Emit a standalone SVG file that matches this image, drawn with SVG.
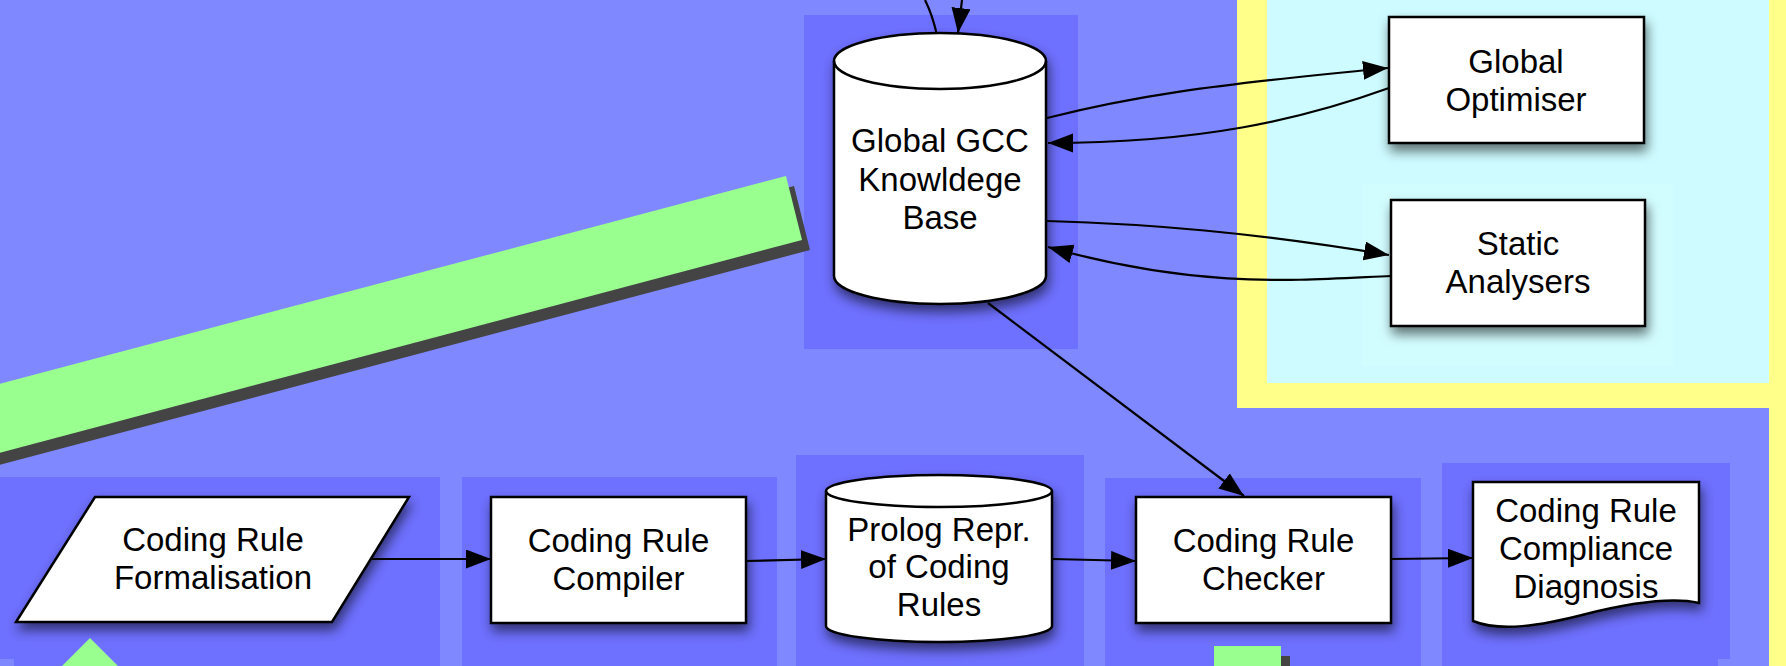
<svg xmlns="http://www.w3.org/2000/svg" width="1786" height="666" viewBox="0 0 1786 666">
  <defs>
    <style>
      .panel { fill: #6E70FF; }
      .bg { fill: #8088FF; }
      .node { fill: #FFFFFF; stroke: #000000; stroke-width: 2.5; filter: url(#shadow); }
      .rim { fill: none; stroke: #000000; stroke-width: 2.5; }
      .label { font-family: "Liberation Sans", Arial, Helvetica, sans-serif; font-size: 33px; fill: #000000; text-anchor: middle; }
      .edge { fill: none; stroke: #000000; stroke-width: 2.2; }
      .arrow { marker-end: url(#head); }
      .green { fill: #99FF8E; }
      .gshadow { fill: #444444; }
    </style>
    <filter id="shadow" x="-20%" y="-20%" width="140%" height="150%">
      <feDropShadow dx="2" dy="7" stdDeviation="6" flood-color="#000000" flood-opacity="0.55"/>
    </filter>
    <marker id="head" markerUnits="userSpaceOnUse" markerWidth="26" markerHeight="20" refX="25" refY="9.5" orient="auto">
      <path d="M0,0 L25,9.5 L0,19 Z" fill="#000000"/>
    </marker>
  </defs>

  <!-- backdrop -->
  <rect class="bg" x="0" y="0" width="1786" height="666"/>
  <rect x="1237" y="0" width="549" height="408" fill="#FFFF8A"/>
  <rect x="1769" y="0" width="17" height="666" fill="#FFFF8A"/>
  <rect x="1267" y="0" width="502" height="383" fill="#CDFBFF"/>
  <rect x="1362" y="184" width="311" height="182" fill="#D2FDFF"/>

  <!-- group panels -->
  <rect class="panel" x="804" y="15" width="274" height="334"/>
  <rect class="panel" x="0" y="477" width="440" height="189"/>
  <rect class="panel" x="462" y="477" width="315" height="189"/>
  <rect class="panel" x="796" y="455" width="288" height="211"/>
  <rect class="panel" x="1105" y="478" width="316" height="188"/>
  <rect class="panel" x="1442" y="463" width="288" height="203"/>
  <rect class="bg" x="0" y="659" width="14" height="7"/>
  <rect class="bg" x="1718" y="659" width="51" height="7"/>

  <!-- green bands -->
  <polygon class="gshadow" points="-12,399 794,186 810,250 -12,468"/>
  <polygon class="green" points="-20,389 786,176 802,240 -20,458"/>
  <polygon class="green" points="90,638 62,666 118,666"/>
  <rect class="gshadow" x="1223" y="656" width="67" height="10"/>
  <rect class="green" x="1214" y="646" width="67" height="20"/>

  <!-- connectors -->
  <g id="connectors">
    <path class="edge" d="M937,35 C934,22 930,10 925,0"/>
    <path class="edge arrow" d="M962,0 L958,33"/>
    <path class="edge arrow" d="M1047,118 C1130,97 1200,86 1388,68"/>
    <path class="edge arrow" d="M1389,88 C1300,120 1200,143 1048,143"/>
    <path class="edge arrow" d="M1047,221 C1150,224 1250,232 1389,255"/>
    <path class="edge arrow" d="M1391,276 C1300,280 1200,290 1048,247"/>
    <path class="edge arrow" d="M988,303 L1244,496"/>
    <path class="edge arrow" d="M372,559 L491,559"/>
    <path class="edge arrow" d="M746,561 L826,559"/>
    <path class="edge arrow" d="M1052,559 L1136,561"/>
    <path class="edge arrow" d="M1391,559 L1473,558"/>
  </g>

  <!-- knowledge base -->
  <g id="knowledge-base">
    <path class="node" d="M834,61 A106,28 0 0 1 1046,61 V276 A106,28 0 0 1 834,276 Z"/>
    <path class="rim" d="M834,61 A106,28 0 0 0 1046,61"/>
    <text class="label" x="940" y="152">Global GCC</text>
    <text class="label" x="940" y="190.5">Knowldege</text>
    <text class="label" x="940" y="229">Base</text>
  </g>

  <g id="global-optimiser">
    <rect class="node" x="1389" y="17" width="255" height="126"/>
    <text class="label" x="1516" y="73">Global</text>
    <text class="label" x="1516" y="111">Optimiser</text>
  </g>

  <g id="static-analysers">
    <rect class="node" x="1391" y="200" width="254" height="126"/>
    <text class="label" x="1518" y="255">Static</text>
    <text class="label" x="1518" y="293">Analysers</text>
  </g>

  <g id="rule-formalisation">
    <polygon class="node" points="95,497 409,497 332,622 16,622"/>
    <text class="label" x="213" y="551">Coding Rule</text>
    <text class="label" x="213" y="589">Formalisation</text>
  </g>

  <g id="rule-compiler">
    <rect class="node" x="491" y="497" width="255" height="126"/>
    <text class="label" x="618.5" y="552">Coding Rule</text>
    <text class="label" x="618.5" y="590">Compiler</text>
  </g>

  <g id="prolog-rules">
    <path class="node" d="M826,491 A113,16 0 0 1 1052,491 V626 A113,16 0 0 1 826,626 Z"/>
    <path class="rim" d="M826,491 A113,16 0 0 0 1052,491"/>
    <text class="label" x="939" y="541">Prolog Repr.</text>
    <text class="label" x="939" y="578">of Coding</text>
    <text class="label" x="939" y="616">Rules</text>
  </g>

  <g id="rule-checker">
    <rect class="node" x="1136" y="497" width="255" height="126"/>
    <text class="label" x="1263.5" y="552">Coding Rule</text>
    <text class="label" x="1263.5" y="590">Checker</text>
  </g>

  <g id="compliance-diagnosis">
    <path class="node" d="M1473,482 H1699 V603 C1672,597 1630,603 1586,614 C1540,626 1500,632 1473,621 Z"/>
    <text class="label" x="1586" y="522">Coding Rule</text>
    <text class="label" x="1586" y="560">Compliance</text>
    <text class="label" x="1586" y="598">Diagnosis</text>
  </g>
</svg>
